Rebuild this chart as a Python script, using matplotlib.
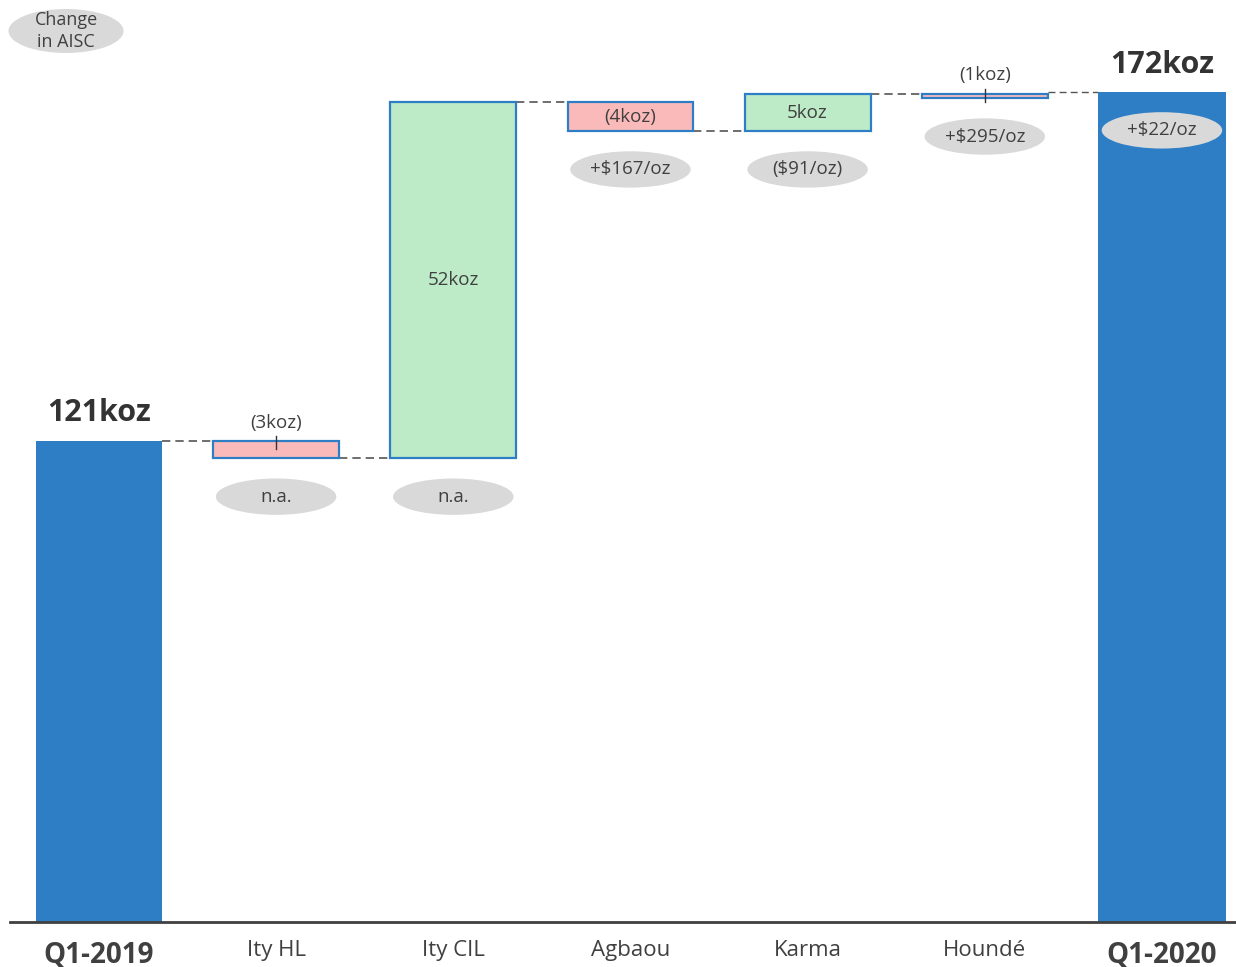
import matplotlib.pyplot as plt
from matplotlib.patches import Ellipse

plt.rcParams['font.family'] = ['Open Sans', 'DejaVu Sans']

categories = ['Q1-2019', 'Ity HL', 'Ity CIL', 'Agbaou', 'Karma', 'Houndé', 'Q1-2020']
start_koz = 120.6
deltas_koz = [-2.5, 51.9, -4.2, 5.4, -0.6]
end_koz = 171.5
value_labels = ['121koz', '(3koz)', '52koz', '(4koz)', '5koz', '(1koz)', '172koz']
aisc_labels = [None, 'n.a.', 'n.a.', '+$167/oz', '($91/oz)', '+$295/oz', '+$22/oz']

BLUE = '#2E7EC6'
GREEN = '#BDEBC8'
PINK = '#FBBABA'
GREY = '#D9D9D9'
TEXT = '#404040'

fig = plt.figure(figsize=(12.36, 9.67), dpi=100)
ax = fig.add_axes([10 / 1236, 45 / 967, 1226 / 1236, 922 / 967])
ymin = 50.5
ax.set_ylim(ymin, ymin + 922 / 6.86)
ax.set_xlim(-0.502, 6.418)
w = 0.71

# totals
ax.bar(0, start_koz - ymin, bottom=ymin, width=w, color=BLUE, zorder=2)
ax.bar(6, end_koz - ymin, bottom=ymin, width=0.72, color=BLUE, zorder=2)
ax.text(0, start_koz + 4.1, value_labels[0], ha='center', va='center',
        fontsize=22, fontweight='bold', color='#333333')
ax.text(6, end_koz + 3.9, value_labels[6], ha='center', va='center',
        fontsize=22, fontweight='bold', color='#333333')

# floating steps
level = start_koz
bottoms = [None]
for i, d in enumerate(deltas_koz, start=1):
    lo, hi = min(level, level + d), max(level, level + d)
    ax.bar(i, hi - lo, bottom=lo, width=w, color=GREEN if d > 0 else PINK,
           edgecolor=BLUE, linewidth=1.6, zorder=2)
    # connector from previous bar
    ax.plot([i - 1 + w / 2, i - w / 2], [level, level], ls=(0, (5, 3)),
            color='#555555', lw=1.2, zorder=1)
    if abs(d) < 3:
        ax.plot([i, i], [hi - 1.1, hi + 0.7], color='#333333', lw=1.0, zorder=3)
        ax.text(i, hi + 2.7, value_labels[i], ha='center', va='center',
                fontsize=13.5, color=TEXT)
    else:
        ax.text(i, (lo + hi) / 2, value_labels[i], ha='center', va='center',
                fontsize=13.5, color=TEXT)
    bottoms.append(lo)
    level += d
ax.plot([5 + w / 2, 6 - 0.36], [end_koz, end_koz], ls=(0, (5, 3)),
        color='#555555', lw=1.0, zorder=1)
bottoms.append(end_koz)

# AISC change bubbles
for i, lab in enumerate(aisc_labels):
    if lab is None:
        continue
    cy = bottoms[i] - 5.6
    ax.add_patch(Ellipse((i, cy), 0.68, 5.3, facecolor=GREY, edgecolor='none', zorder=3))
    ax.text(i, cy, lab, ha='center', va='center', fontsize=13.5, color=TEXT, zorder=4)

# legend bubble
fig.patches.append(Ellipse((66 / 1236, 1 - 31 / 967), 115 / 1236, 44 / 967,
                           transform=fig.transFigure, facecolor=GREY, edgecolor='none'))
fig.text(66 / 1236, 1 - 31 / 967, 'Change\nin AISC', ha='center', va='center',
         fontsize=13, color=TEXT, linespacing=1.35)

ax.set_xticks(range(len(categories)))
ax.set_xticklabels(categories, fontsize=16, color=TEXT)
for k in (0, 6):
    ax.get_xticklabels()[k].set_fontweight('bold')
    ax.get_xticklabels()[k].set_fontsize(20)
ax.tick_params(axis='x', length=0, pad=13)
ax.set_yticks([])
for s in ('top', 'left', 'right'):
    ax.spines[s].set_visible(False)
ax.spines['bottom'].set_color('#404040')
ax.spines['bottom'].set_linewidth(2)
ax.spines['bottom'].set_zorder(4)

fig.savefig('out.png', dpi=100)
